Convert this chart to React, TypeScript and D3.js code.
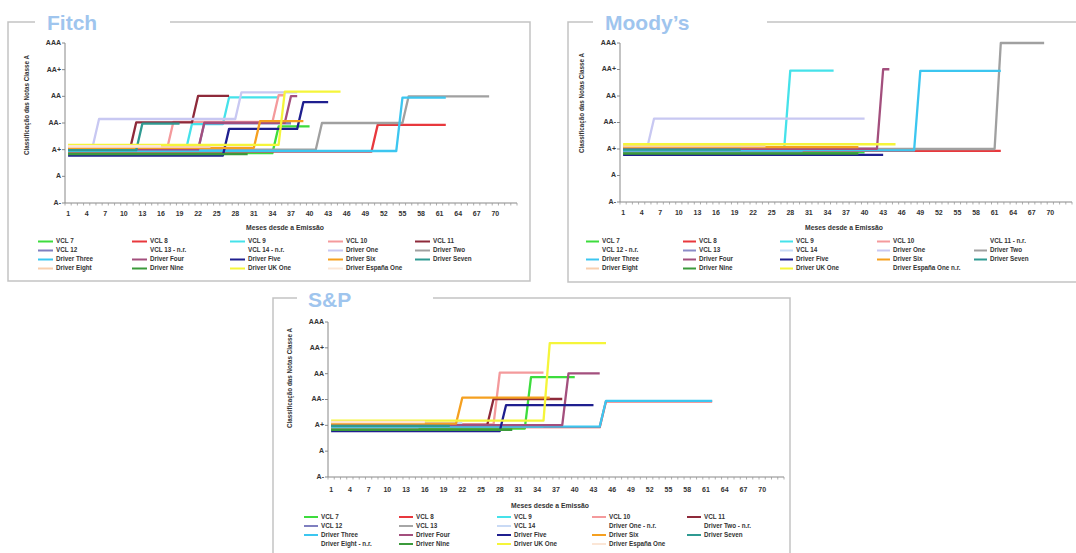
import * as d3 from "d3";

// escala de classificação (A- em baixo, AAA em cima)
const ratingScale = ["A-", "A", "A+", "AA-", "AA", "AA+", "AAA"];
const monthTicks = [1, 4, 7, 10, 13, 16, 19, 22, 25, 28, 31, 34, 37, 40, 43, 46, 49, 52, 55, 58, 61, 64, 67, 70];

const seriesNames = [
  "VCL 7", "VCL 8", "VCL 9", "VCL 10", "VCL 11",
  "VCL 12", "VCL 13", "VCL 14", "Driver One", "Driver Two",
  "Driver Three", "Driver Four", "Driver Five", "Driver Six", "Driver Seven",
  "Driver Eight", "Driver Nine", "Driver UK One", "Driver España One",
];

type Step = [number, string];

// [mês desde a emissão, classificação]
const fitchRatings: Record<string, Step[]> = {
  "VCL 7": [[1, "A+"], [34, "A+"], [35, "AA-"], [40, "AA-"]],
  "VCL 8": [[1, "A+"], [50, "A+"], [51, "AA-"], [62, "AA-"]],
  "VCL 9": [[1, "A+"], [20, "A+"], [21, "AA-"], [26, "AA-"], [27, "AA"], [35, "AA"]],
  "VCL 10": [[1, "A+"], [17, "A+"], [18, "AA-"], [34, "AA-"], [35, "AA"], [36, "AA"]],
  "VCL 11": [[1, "A+"], [11, "A+"], [12, "AA-"], [21, "AA-"], [22, "AA"], [27, "AA"]],
  "VCL 12": [[1, "A+"], [22, "A+"], [23, "AA-"], [37, "AA-"]],
  "Driver One": [[1, "A+"], [5, "A+"], [6, "AA-"], [28, "AA-"], [29, "AA"], [38, "AA"]],
  "Driver Two": [[1, "A+"], [41, "A+"], [42, "AA-"], [55, "AA-"], [56, "AA"], [69, "AA"]],
  "Driver Three": [[1, "A+"], [54, "A+"], [55, "AA"], [62, "AA"]],
  "Driver Four": [[1, "A+"], [22, "A+"], [23, "AA-"], [36, "AA-"], [37, "AA"], [38, "AA"]],
  "Driver Five": [[1, "A+"], [26, "A+"], [27, "AA-"], [38, "AA-"], [39, "AA"], [43, "AA"]],
  "Driver Six": [[1, "A+"], [31, "A+"], [32, "AA-"], [39, "AA-"]],
  "Driver Seven": [[1, "A+"], [12, "A+"], [13, "AA-"], [19, "AA-"]],
  "Driver Eight": [[1, "A+"], [24, "A+"]],
  "Driver Nine": [[1, "A+"], [30, "A+"]],
  "Driver UK One": [[1, "A+"], [35, "A+"], [36, "AA"], [45, "AA"]],
  "Driver España One": [[1, "A+"], [16, "A+"]],
};

const moodysRatings: Record<string, Step[]> = {
  "VCL 7": [[1, "A+"], [40, "A+"]],
  "VCL 8": [[1, "A+"], [62, "A+"]],
  "VCL 9": [[1, "A+"], [27, "A+"], [28, "AA+"], [35, "AA+"]],
  "VCL 10": [[1, "A+"], [36, "A+"]],
  "VCL 13": [[1, "A+"], [30, "A+"]],
  "VCL 14": [[1, "A+"], [18, "A+"]],
  "Driver One": [[1, "A+"], [5, "A+"], [6, "AA-"], [40, "AA-"]],
  "Driver Two": [[1, "A+"], [61, "A+"], [62, "AAA"], [69, "AAA"]],
  "Driver Three": [[1, "A+"], [48, "A+"], [49, "AA+"], [62, "AA+"]],
  "Driver Four": [[1, "A+"], [42, "A+"], [43, "AA+"], [44, "AA+"]],
  "Driver Five": [[1, "A+"], [43, "A+"]],
  "Driver Six": [[1, "A+"], [39, "A+"]],
  "Driver Seven": [[1, "A+"], [20, "A+"]],
  "Driver Eight": [[1, "A+"], [24, "A+"]],
  "Driver Nine": [[1, "A+"], [39, "A+"]],
  "Driver UK One": [[1, "A+"], [45, "A+"]],
};

const spRatings: Record<string, Step[]> = {
  "VCL 7": [[1, "A+"], [32, "A+"], [33, "AA"], [40, "AA"]],
  "VCL 8": [[1, "A+"], [44, "A+"], [45, "AA-"], [62, "AA-"]],
  "VCL 9": [[1, "A+"], [35, "A+"]],
  "VCL 10": [[1, "A+"], [27, "A+"], [28, "AA"], [35, "AA"]],
  "VCL 11": [[1, "A+"], [26, "A+"], [27, "AA-"], [38, "AA-"]],
  "VCL 12": [[1, "A+"], [30, "A+"]],
  "VCL 13": [[1, "A+"], [15, "A+"]],
  "VCL 14": [[1, "A+"], [22, "A+"]],
  "Driver Three": [[1, "A+"], [44, "A+"], [45, "AA-"], [62, "AA-"]],
  "Driver Four": [[1, "A+"], [38, "A+"], [39, "AA"], [44, "AA"]],
  "Driver Five": [[1, "A+"], [28, "A+"], [29, "AA-"], [43, "AA-"]],
  "Driver Six": [[1, "A+"], [21, "A+"], [22, "AA-"], [36, "AA-"]],
  "Driver Seven": [[1, "A+"], [20, "A+"]],
  "Driver Nine": [[1, "A+"], [30, "A+"]],
  "Driver UK One": [[1, "A+"], [35, "A+"], [36, "AA+"], [45, "AA+"]],
  "Driver España One": [[1, "A+"], [16, "A+"]],
};

const fitchLegend = [
  "VCL 7", "VCL 8", "VCL 9", "VCL 10", "VCL 11",
  "VCL 12", "VCL 13 - n.r.", "VCL 14 - n.r.", "Driver One", "Driver Two",
  "Driver Three", "Driver Four", "Driver Five", "Driver Six", "Driver Seven",
  "Driver Eight", "Driver Nine", "Driver UK One", "Driver España One",
];
const moodysLegend = [
  "VCL 7", "VCL 8", "VCL 9", "VCL 10", "VCL 11 - n.r.",
  "VCL 12 - n.r.", "VCL 13", "VCL 14", "Driver One", "Driver Two",
  "Driver Three", "Driver Four", "Driver Five", "Driver Six", "Driver Seven",
  "Driver Eight", "Driver Nine", "Driver UK One", "Driver España One n.r.",
];
const spLegend = [
  "VCL 7", "VCL 8", "VCL 9", "VCL 10", "VCL 11",
  "VCL 12", "VCL 13", "VCL 14", "Driver One - n.r.", "Driver Two - n.r.",
  "Driver Three", "Driver Four", "Driver Five", "Driver Six", "Driver Seven",
  "Driver Eight - n.r.", "Driver Nine", "Driver UK One", "Driver España One",
];

// estilos
const seriesColor: Record<string, string> = {
  "VCL 7": "#3ddc3d",
  "VCL 8": "#e8383d",
  "VCL 9": "#45e2ea",
  "VCL 10": "#f49a9c",
  "VCL 11": "#8e2a3a",
  "VCL 12": "#7f7fbf",
  "VCL 13": "#8c8cc8",
  "VCL 14": "#c9daf5",
  "Driver One": "#c8c8f2",
  "Driver Two": "#a0a0a0",
  "Driver Three": "#3cc6f0",
  "Driver Four": "#a34f7d",
  "Driver Five": "#1f1f8f",
  "Driver Six": "#f5a020",
  "Driver Seven": "#2f9a92",
  "Driver Eight": "#f8cfae",
  "Driver Nine": "#3b9a3b",
  "Driver UK One": "#f5f53a",
  "Driver España One": "#fbe6d6",
};

// pequeno deslocamento vertical para as linhas não se sobreporem
const bundleOffset: Record<string, number> = {
  "VCL 7": -0.13, "VCL 8": -0.07, "VCL 9": -0.04, "VCL 10": 0.04, "VCL 11": 0.02,
  "VCL 12": -0.01, "VCL 13": -0.1, "VCL 14": 0.08, "Driver One": 0.15, "Driver Two": 0,
  "Driver Three": -0.05, "Driver Four": 0.01, "Driver Five": -0.22, "Driver Six": 0.07,
  "Driver Seven": -0.02, "Driver Eight": 0.11, "Driver Nine": -0.17, "Driver UK One": 0.18,
  "Driver España One": 0.13,
};

const FONT = "'Liberation Sans', Arial, sans-serif";
const TITLE_COLOR = "#9fc5ee";
const BORDER = "#c3c3c3";

interface PanelCfg {
  title: string;
  box: [number, number, number, number]; // left, top, right, bottom
  gap: [number, number];
  titleX: number;
  titleY: number;
  x0: number;
  x1: number;
  yT: number;
  yB: number;
  tickDy: number;
  yTitle: [number, number];
  xTitle: [number, number];
  legendCols: number[];
  legendRows: number[];
  swatch: number;
  colorOverride?: Record<string, string>;
}

function Panel({cfg, data, legend}: {cfg: PanelCfg; data: Record<string, Step[]>; legend: string[]}) {
  const x = d3.scaleLinear().domain([0.5, 73.5]).range([cfg.x0, cfg.x1]);
  const y = d3.scaleLinear().domain([0, ratingScale.length - 1]).range([cfg.yB, cfg.yT]);
  const colorOf = (n: string) => cfg.colorOverride?.[n] ?? seriesColor[n];
  const [l, t, r, b] = cfg.box;
  const minor = d3.range(0.5, 74, 1);

  return (
    <g fontFamily={FONT}>
      <path
        d={`M${cfg.gap[0]},${t} H${l} V${b} H${r} V${t} H${cfg.gap[1]}`}
        fill="none"
        stroke={BORDER}
        strokeWidth={1.5}
      />
      <text x={cfg.titleX} y={cfg.titleY} fontSize={21} fontWeight="bold" fill={TITLE_COLOR}>
        {cfg.title}
      </text>

      {/* eixo Y */}
      <line x1={cfg.x0} x2={cfg.x0} y1={cfg.yT} y2={cfg.yB} stroke="#888" strokeWidth={1} />
      {ratingScale.map((lab, i) => (
        <g key={lab}>
          <line x1={cfg.x0 - 3} x2={cfg.x0} y1={y(i)} y2={y(i)} stroke="#888" />
          <text
            x={cfg.x0 - 4}
            y={y(i)}
            textAnchor="end"
            dominantBaseline="middle"
            fontSize={7}
            fontWeight="bold"
            fill="#333"
          >
            {lab}
          </text>
        </g>
      ))}

      {/* eixo X */}
      <line x1={cfg.x0} x2={cfg.x1} y1={cfg.yB} y2={cfg.yB} stroke="#888" strokeWidth={1} />
      {minor.map((m) => (
        <line key={m} x1={x(m)} x2={x(m)} y1={cfg.yB} y2={cfg.yB + 2.5} stroke="#999" strokeWidth={0.8} />
      ))}
      {monthTicks.map((m) => (
        <text
          key={m}
          x={x(m)}
          y={cfg.yB + cfg.tickDy}
          textAnchor="middle"
          dominantBaseline="middle"
          fontSize={7}
          fontWeight="bold"
          fill="#333"
        >
          {m}
        </text>
      ))}

      <text
        transform={`translate(${cfg.yTitle[0]},${cfg.yTitle[1]}) rotate(-90)`}
        textAnchor="middle"
        dominantBaseline="middle"
        fontSize={6.3}
        fontWeight="bold"
        fill="#333"
      >
        Classificação das Notas Classe A
      </text>
      <text
        x={cfg.xTitle[0]}
        y={cfg.xTitle[1]}
        textAnchor="middle"
        dominantBaseline="middle"
        fontSize={6.8}
        fontWeight="bold"
        fill="#333"
      >
        Meses desde a Emissão
      </text>

      {/* séries */}
      {seriesNames.map((name) => {
        const pts = data[name];
        if (!pts) return null;
        const off = bundleOffset[name] ?? 0;
        const line = d3
          .line<Step>()
          .x((d) => x(d[0]))
          .y((d) => y(ratingScale.indexOf(d[1]) + off));
        return (
          <path
            key={name}
            d={line(pts) ?? ""}
            fill="none"
            stroke={colorOf(name)}
            strokeWidth={2.3}
            strokeLinejoin="round"
          />
        );
      })}

      {/* legenda */}
      {legend.map((lab, i) => {
        const cx = cfg.legendCols[i % 5];
        const cy = cfg.legendRows[Math.floor(i / 5)];
        const nr = lab.includes("n.r.");
        return (
          <g key={lab}>
            {!nr && (
              <line x1={cx} x2={cx + cfg.swatch} y1={cy} y2={cy} stroke={colorOf(seriesNames[i])} strokeWidth={2} />
            )}
            <text
              x={cx + cfg.swatch + 3}
              y={cy}
              dominantBaseline="middle"
              fontSize={6.3}
              fontWeight="bold"
              fill="#333"
            >
              {lab}
            </text>
          </g>
        );
      })}
    </g>
  );
}

const fitchCfg: PanelCfg = {
  title: "Fitch",
  box: [8, 22, 530, 281],
  gap: [35, 170],
  titleX: 47,
  titleY: 30,
  x0: 65,
  x1: 517,
  yT: 43,
  yB: 203,
  tickDy: 11,
  yTitle: [27, 105],
  xTitle: [285, 228],
  legendCols: [38, 132, 230, 328, 415],
  legendRows: [241.5, 250.5, 259.5, 268.5],
  swatch: 15,
};

const moodysCfg: PanelCfg = {
  title: "Moody’s",
  box: [568, 22, 1090, 282],
  gap: [593, 767],
  titleX: 605,
  titleY: 30,
  x0: 620,
  x1: 1072,
  yT: 43,
  yB: 202,
  tickDy: 11,
  yTitle: [582, 103],
  xTitle: [844, 228],
  legendCols: [586, 683, 780, 877, 974],
  legendRows: [241.5, 250.5, 259.5, 268.5],
  swatch: 13,
};

const spCfg: PanelCfg = {
  title: "S&P",
  box: [273, 298, 790, 570],
  gap: [297, 433],
  titleX: 308,
  titleY: 307,
  x0: 328,
  x1: 784,
  yT: 322,
  yB: 477,
  tickDy: 13,
  yTitle: [290, 378],
  xTitle: [550, 506],
  legendCols: [304, 399, 497, 592, 687],
  legendRows: [517, 526, 535, 544],
  swatch: 14,
  colorOverride: {"VCL 13": "#a6a6a6"},
};

export default function App() {
  return (
    <div style={{position: "absolute", left: 0, top: 0, width: 1076, height: 553, background: "white"}}>
      <svg width={1076} height={553} style={{display: "block"}}>
        <rect width={1076} height={553} fill="white" />
        <Panel cfg={fitchCfg} data={fitchRatings} legend={fitchLegend} />
        <Panel cfg={moodysCfg} data={moodysRatings} legend={moodysLegend} />
        <Panel cfg={spCfg} data={spRatings} legend={spLegend} />
      </svg>
    </div>
  );
}
